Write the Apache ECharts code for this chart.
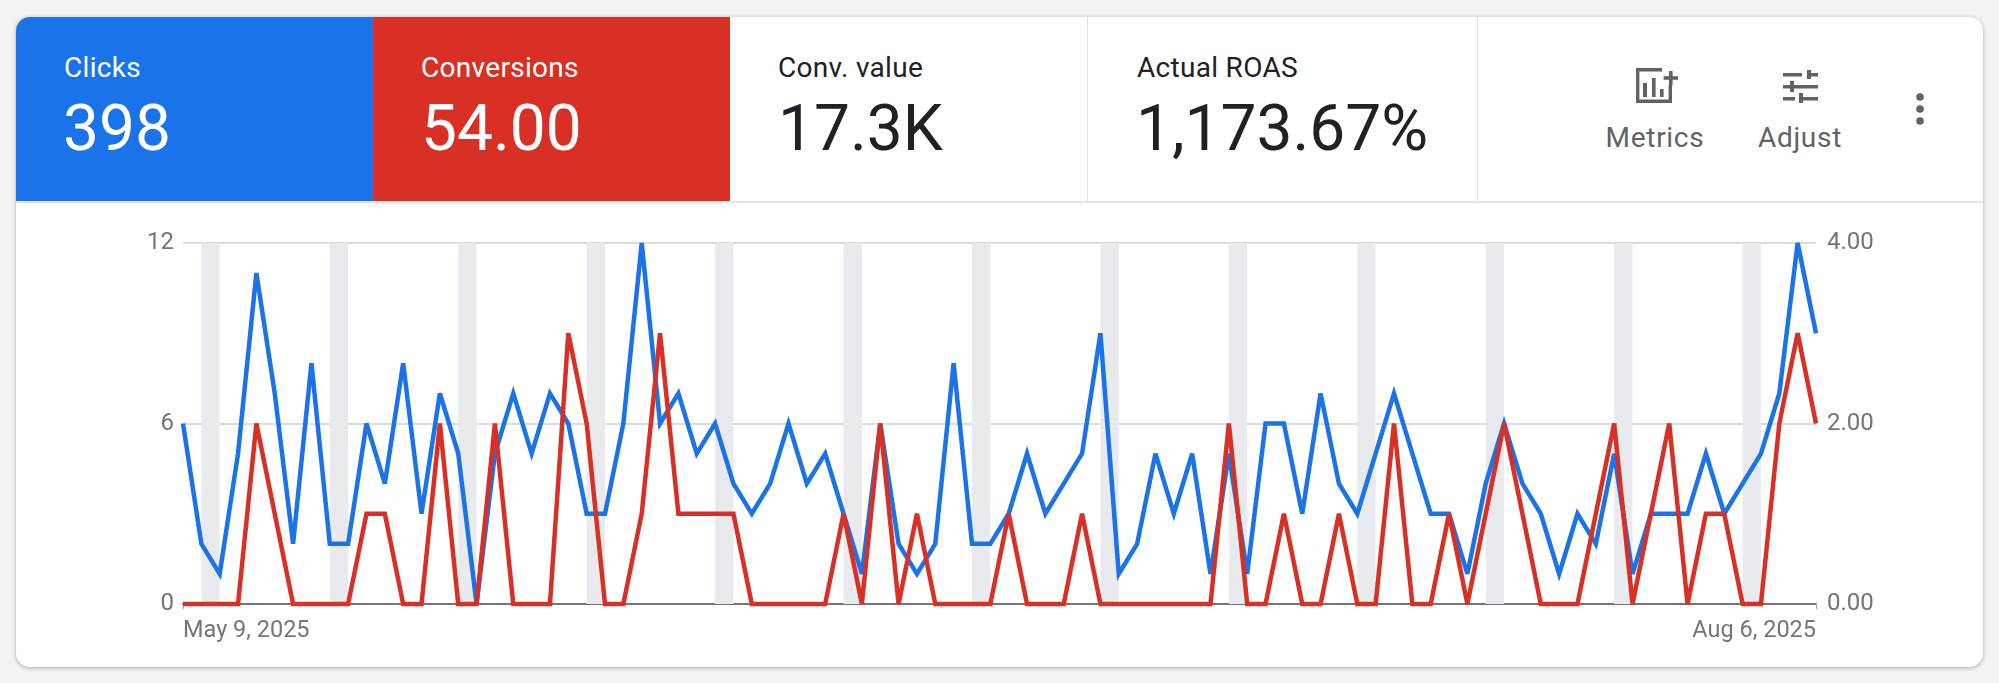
<!DOCTYPE html>
<html>
<head>
<meta charset="utf-8">
<style>
  html, body { margin: 0; padding: 0; background: #f1f3f4; }
  body { width: 1999px; height: 683px; position: relative; overflow: hidden; font-family: Roboto, sans-serif; }
  #card { position: absolute; left: 16px; top: 17px; width: 1967px; height: 650px; background: #fff; border-radius: 14px;
          box-shadow: 0 1px 4px rgba(60,64,67,.4); overflow: hidden; }
  .tile { position: absolute; top: 0; height: 184px; color: #202124; }
  .tile .name { position: absolute; top: 34px; font-size: 28px; letter-spacing: .3px; line-height: 34px; white-space: nowrap; }
  .tile .num { position: absolute; top: 74px; font-size: 64px; line-height: 76px; white-space: nowrap; }
  .sep { border-right: 1.5px solid #e1e3e6; box-sizing: border-box; }
  #rule { position: absolute; left: 0; right: 0; top: 184px; height: 2px; background: #e3e5e8; }
  #chart { position: absolute; left: 0; top: 0; width: 1999px; height: 683px; }
  .tool { position: absolute; color: #5f6368; font-size: 28px; letter-spacing: .7px; line-height: 32px; transform: translateX(-50%); white-space: nowrap; }
  svg.ic { position: absolute; fill: #5f6368; }
</style>
<script src="https://cdn.jsdelivr.net/npm/echarts@6/dist/echarts.min.js"></script>
</head>
<body>
<div id="card">
  <div class="tile" style="left:0;width:357px;background:#1a73e8;color:#fff"><div class="name" style="left:48px">Clicks</div><div class="num" style="left:47px">398</div></div>
  <div class="tile" style="left:357px;width:357px;background:#d93025;color:#fff"><div class="name" style="left:48px">Conversions</div><div class="num" style="left:48px">54.00</div></div>
  <div class="tile sep" style="left:714px;width:358px"><div class="name" style="left:48px">Conv. value</div><div class="num" style="left:48px">17.3K</div></div>
  <div class="tile sep" style="left:1072px;width:390px"><div class="name" style="left:49px">Actual ROAS</div><div class="num" style="left:48px">1,173.67%</div></div>
  <div id="rule"></div>
  <svg class="ic" style="left:1620px;top:51px" width="42" height="36" viewBox="0 0 42 36">
    <path d="M0 0h26v3.4H3.4v28.2h29.2V17H36v18H0z"/>
    <path d="M7 15h4v14H7zM16 10h3.6v19H16zM24 21h3.6v8H24zM33 3h3.6v5.2H42v3.6h-5.4V17H33v-5.2h-5.4V8.200H33z"/>
  </svg>
  <div class="tool" style="left:1639px;top:105px">Metrics</div>
  <svg class="ic" style="left:1767px;top:53px" width="35" height="33" viewBox="0 0 35 33">
    <path d="M0 3h19v3.4H0zM24 0h4v3h7v3.4h-7V9h-4zM0 15h7v-4h4v11H7v-3.4H0zM11 15h24v3.4H11zM0 27h12v3.4H0zM16 23h4v4h15v3.4H20V33h-4z"/>
  </svg>
  <div class="tool" style="left:1784px;top:105px">Adjust</div>
  <svg class="ic" style="left:1900px;top:72px" width="8" height="38" viewBox="0 0 8 38">
    <circle cx="4" cy="8" r="3.8"/><circle cx="4" cy="20" r="3.8"/><circle cx="4" cy="32" r="3.8"/>
  </svg>
</div>
<div id="chart"></div>
<script>
// Daily clicks (left axis) and conversions (right axis), May 9 to Aug 6, 2025.
const clicks = [
  6, 2, 1, 5, 11, 7, 2, 8, 2, 2,
  6, 4, 8, 3, 7, 5, 0, 5, 7, 5,
  7, 6, 3, 3, 6, 12, 6, 7, 5, 6,
  4, 3, 4, 6, 4, 5, 3, 1, 6, 2,
  1, 2, 8, 2, 2, 3, 5, 3, 4, 5,
  9, 1, 2, 5, 3, 5, 1, 5, 1, 6,
  6, 3, 7, 4, 3, 5, 7, 5, 3, 3,
  1, 4, 6, 4, 3, 1, 3, 2, 5, 1,
  3, 3, 3, 5, 3, 4, 5, 7, 12, 9
];
const conversions = [
  0, 0, 0, 0, 2, 1, 0, 0, 0, 0,
  1, 1, 0, 0, 2, 0, 0, 2, 0, 0,
  0, 3, 2, 0, 0, 1, 3, 1, 1, 1,
  1, 0, 0, 0, 0, 0, 1, 0, 2, 0,
  1, 0, 0, 0, 0, 1, 0, 0, 0, 1,
  0, 0, 0, 0, 0, 0, 0, 2, 0, 0,
  1, 0, 0, 1, 0, 0, 2, 0, 0, 1,
  0, 1, 2, 1, 0, 0, 0, 1, 2, 0,
  1, 2, 0, 1, 1, 0, 0, 2, 3, 2
];
const monthNames = ['Jan', 'Feb', 'Mar', 'Apr', 'May', 'Jun', 'Jul', 'Aug'];
const days = clicks.map((_, i) => {
  const d = new Date(Date.UTC(2025, 4, 9 + i));
  return monthNames[d.getUTCMonth()] + ' ' + d.getUTCDate() + ', ' + d.getUTCFullYear();
});
// Saturday-to-Sunday shading for each weekend in the range.
const weekends = [];
for (let i = 1; i + 1 < days.length; i += 7) {
  weekends.push([{ xAxis: days[i] }, { xAxis: days[i + 1] }]);
}
const lastIndex = days.length - 1;
const showEnds = i => i === 0 || i === lastIndex;

const chart = echarts.init(document.getElementById('chart'), null, { renderer: 'canvas' });
chart.setOption({
  animation: false,
  backgroundColor: 'transparent',
  grid: { left: 183, right: 183, top: 243, bottom: 79, containLabel: false },
  xAxis: {
    type: 'category',
    data: days,
    boundaryGap: false,
    axisLine: { lineStyle: { color: '#757575', width: 2 } },
    axisTick: { show: true, interval: showEnds, length: 5, lineStyle: { color: '#9aa0a6', width: 1 } },
    axisLabel: {
      interval: showEnds,
      color: '#757575', fontFamily: 'Roboto', fontSize: 23.5, margin: 15,
      alignMinLabel: 'left', alignMaxLabel: 'right', hideOverlap: false
    },
    splitLine: { show: false }
  },
  yAxis: [
    {
      type: 'value', min: 0, max: 12, interval: 6,
      axisLine: { show: false }, axisTick: { show: false },
      axisLabel: { color: '#757575', fontFamily: 'Roboto', fontSize: 24, margin: 9, padding: [3, 0, 0, 0] },
      splitLine: { lineStyle: { color: '#dadce0', width: 2 } }
    },
    {
      type: 'value', min: 0, max: 4, interval: 2, position: 'right',
      axisLine: { show: false }, axisTick: { show: false },
      axisLabel: { color: '#757575', fontFamily: 'Roboto', fontSize: 24, margin: 11, padding: [3, 0, 0, 0], formatter: v => v.toFixed(2) },
      splitLine: { show: false }
    }
  ],
  series: [
    {
      name: 'Clicks', type: 'line', yAxisIndex: 0, data: clicks, z: 3,
      showSymbol: false, symbol: 'none', clip: false, silent: true,
      lineStyle: { color: '#1a73e8', width: 4.5, join: 'miter', cap: 'butt', miterLimit: 4 },
      markArea: { silent: true, z: 1, itemStyle: { color: '#e8eaed' }, data: weekends }
    },
    {
      name: 'Conversions', type: 'line', yAxisIndex: 1, data: conversions, z: 4,
      showSymbol: false, symbol: 'none', clip: false, silent: true,
      lineStyle: { color: '#d93025', width: 4.5, join: 'miter', cap: 'butt', miterLimit: 4 }
    }
  ]
});
</script>
</body>
</html>
